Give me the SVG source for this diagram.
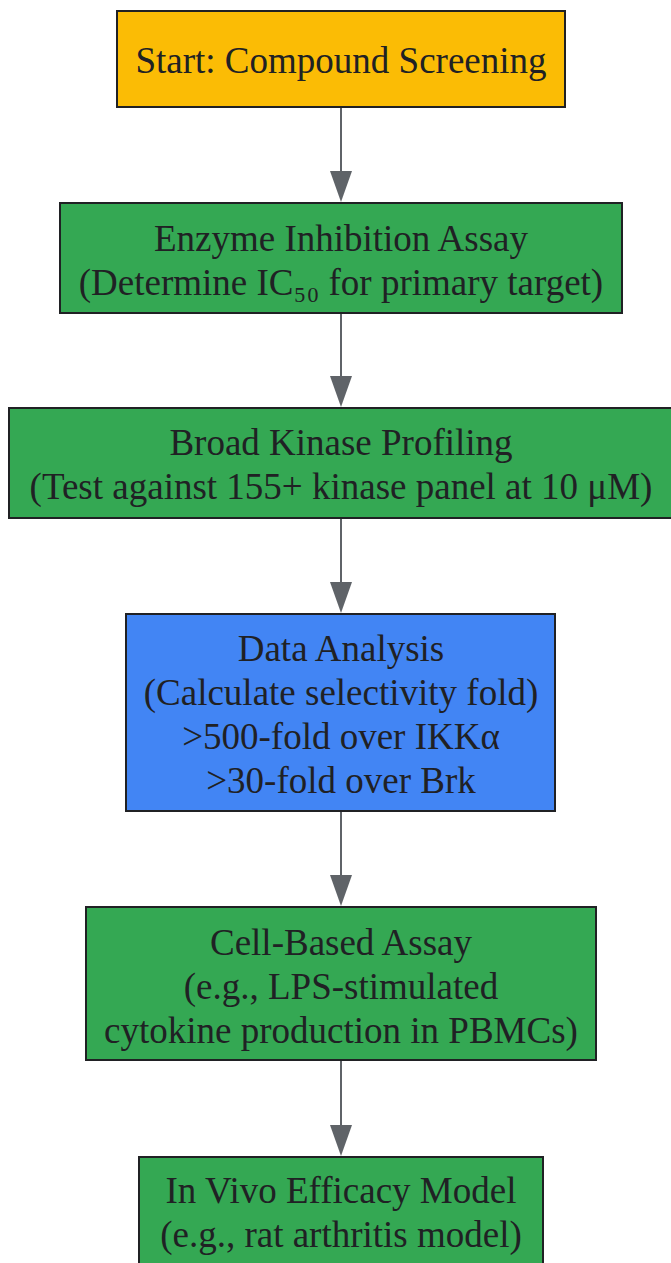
<svg xmlns="http://www.w3.org/2000/svg" width="671" height="1263" viewBox="0 0 671 1263">
<defs>
<style>
.box{stroke:#202124;stroke-width:2}
.y{fill:#FBBC05}.g{fill:#34A853}.b{fill:#4285F4}
text{font-family:"Liberation Serif","Times New Roman",serif;font-size:37px;fill:#202124;text-anchor:middle}
.edge{stroke:#5F6368;stroke-width:2;fill:none}
.head{fill:#5F6368}
</style>
</defs>
<rect width="671" height="1263" fill="#ffffff"/>
<g id="connectors">
<line class="edge" x1="341" y1="107" x2="341" y2="172"/>
<polygon class="head" points="330,171 352,171 341,202"/>
<line class="edge" x1="341" y1="313" x2="341" y2="377"/>
<polygon class="head" points="330,376 352,376 341,407"/>
<line class="edge" x1="341" y1="518" x2="341" y2="583"/>
<polygon class="head" points="330,582 352,582 341,613"/>
<line class="edge" x1="341" y1="811" x2="341" y2="876"/>
<polygon class="head" points="330,875 352,875 341,906"/>
<line class="edge" x1="341" y1="1060" x2="341" y2="1126"/>
<polygon class="head" points="330,1125 352,1125 341,1156"/>
</g>
<g id="start">
<rect class="box y" x="117" y="11" width="448" height="96"/>
<text x="341" y="73">Start: Compound Screening</text>
</g>
<g id="enzyme">
<rect class="box g" x="60" y="203" width="562" height="110"/>
<text x="341" y="251">Enzyme Inhibition Assay</text>
<text x="341" y="295">(Determine IC₅₀ for primary target)</text>
</g>
<g id="kinase">
<rect class="box g" x="9" y="408" width="663" height="110"/>
<text x="341" y="455">Broad Kinase Profiling</text>
<text x="341" y="499">(Test against 155+ kinase panel at 10 μM)</text>
</g>
<g id="analysis">
<rect class="box b" x="126" y="614" width="429" height="197"/>
<text x="341" y="661">Data Analysis</text>
<text x="341" y="705">(Calculate selectivity fold)</text>
<text x="341" y="749">&gt;500-fold over IKKα</text>
<text x="341" y="793">&gt;30-fold over Brk</text>
</g>
<g id="cell">
<rect class="box g" x="86" y="907" width="510" height="153"/>
<text x="341" y="955">Cell-Based Assay</text>
<text x="341" y="999">(e.g., LPS-stimulated</text>
<text x="341" y="1043">cytokine production in PBMCs)</text>
</g>
<g id="invivo">
<rect class="box g" x="139" y="1157" width="404" height="120"/>
<text x="341" y="1203">In Vivo Efficacy Model</text>
<text x="341" y="1247">(e.g., rat arthritis model)</text>
</g>
</svg>
